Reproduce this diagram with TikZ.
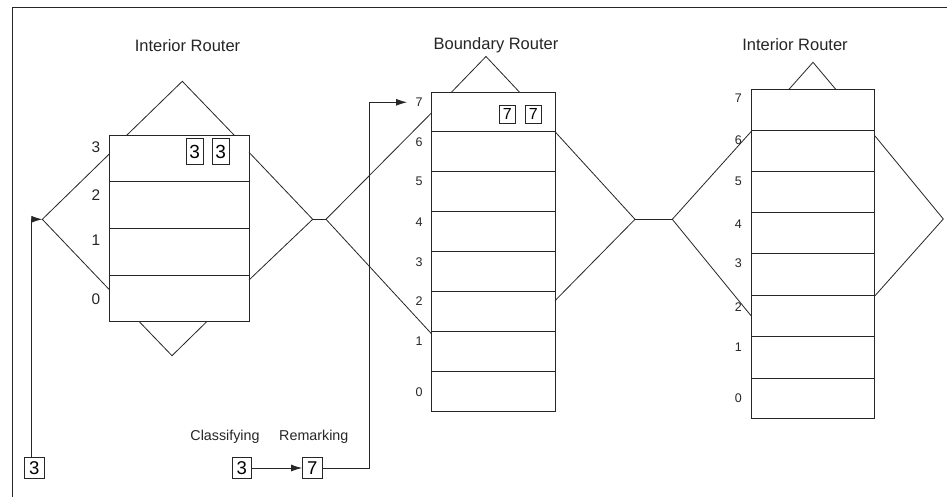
\documentclass[tikz,border=0pt]{standalone}
\usepackage{fontspec}
\setmainfont{Liberation Sans}
\usetikzlibrary{arrows.meta}
\begin{document}
\begin{tikzpicture}[x=1pt,y=-1pt,
  ln/.style={line width=0.8pt, draw=black!85},
  arr/.style={ln,-{Latex[length=11pt,width=7pt]}},
  title/.style={font=\fontsize{16.5}{18}\selectfont, anchor=base, inner sep=0, text=black!85},
  lblL/.style={font=\fontsize{15.4}{17}\selectfont, inner sep=0, text=black!85},
  lbl/.style={font=\fontsize{12.5}{14}\selectfont, inner sep=0, text=black!85},
  captxt/.style={font=\fontsize{14.3}{16}\selectfont, inner sep=0, text=black!85},
  dboxA/.style={ln, draw, inner sep=0, minimum width=17.3pt, minimum height=25.6pt, font=\fontsize{19}{20}\selectfont},
  dboxB/.style={ln, draw, inner sep=0, minimum width=15.7pt, minimum height=18.3pt, font=\fontsize{16}{17}\selectfont},
  dboxC/.style={ln, draw, inner sep=0, minimum width=19.5pt, minimum height=20.6pt, font=\fontsize{18.5}{19}\selectfont}]
\useasboundingbox (0,0) rectangle (947,497);
\fill[white] (0,0) rectangle (947,497);

% frame
\draw[ln] (12,497) -- (12,7.5) -- (947,7.5);

% titles
\node[title] (tL) at (187.5,51.5) {Interior Router};
\node[title] (tB) at (496,50) {Boundary Router};
\node[title] (tR) at (795,50.7) {Interior Router};

% ---------- left interior router ----------
\draw[ln] (109,135.3) rectangle (249,321.7);
\foreach \y in {181.7,228.3,275} \draw[ln] (109,\y) -- (249,\y);
\draw[ln] (126.7,135.3) -- (182.3,81.3) -- (234.3,135.3);
\draw[ln] (139.3,321.7) -- (172,355.7) -- (206.7,321.7);
\coordinate (Lw) at (42.3,219.3);
\coordinate (Le) at (312.7,219.3);
\draw[ln] (109,154.3) -- (Lw) -- (109,289.3);
\draw[ln] (249,152.3) -- (Le) -- (249,280);
\node[lblL] (L3) at (96,147.3) {3};
\node[lblL] (L2) at (96,195) {2};
\node[lblL] (L1) at (96,240) {1};
\node[lblL] (L0) at (96,299.3) {0};
\node[dboxA] (La) at (194.7,151.5) {3};
\node[dboxA] (Lb) at (220.7,151.5) {3};

% ---------- boundary router ----------
\draw[ln] (431.7,92.7) rectangle (555,411);
\foreach \y in {131.7,171.7,211.7,251.7,291.3,331.3,371.3} \draw[ln] (431.7,\y) -- (555,\y);
\draw[ln] (451,92.7) -- (486,56.5) -- (520,92.7);
\coordinate (Bw) at (326,219.3);
\coordinate (Be) at (635,219.3);
\draw[ln] (431.7,112.7) -- (Bw) -- (431.7,334);
\draw[ln] (555,131.7) -- (Be) -- (555,300.7);
\draw[ln] (Le) -- (Bw);
\foreach \t/\y in {7/102.3,6/141.7,5/181.7,4/221.7,3/261.7,2/300.7,1/340.7,0/391.7}
  \node[lbl] (B\t) at (419,\y) {\t};
\node[dboxB] (Ba) at (507.2,114.2) {7};
\node[dboxB] (Bb) at (533.2,114.2) {7};

% ---------- right interior router ----------
\draw[ln] (751,89.3) rectangle (874.3,418.3);
\foreach \y in {130,171.7,212.7,253.7,295.7,336.3,378} \draw[ln] (751,\y) -- (874.3,\y);
\draw[ln] (789,89.3) -- (813,62.3) -- (835.7,89.3);
\coordinate (Rw) at (672.3,219.3);
\coordinate (Re) at (943.3,219);
\draw[ln] (751,131.7) -- (Rw) -- (751,315.7);
\draw[ln] (875,136) -- (Re) -- (875,295.7);
\draw[ln] (Be) -- (Rw);
\foreach \t/\y in {7/98.3,6/140,5/181.7,4/224,3/263.3,2/306.7,1/346.7,0/398.3}
  \node[lbl] (R\t) at (738.3,\y) {\t};

% ---------- packets ----------
\node[dboxC] (src) at (34.2,468) {3};
\coordinate (up) at (31.7,219.3);
\draw[arr] (src.north -| up) -- (up) -- (Lw);

\node[captxt] (cls) at (225,437) {Classifying};
\node[captxt] (rem) at (313.8,437) {Remarking};
\node[dboxC] (c3) at (241.7,468) {3};
\node[dboxC] (c7) at (312.2,468) {7};
\draw[arr] (c3) -- (c7);
\coordinate (turn) at (369.3,102.3);
\coordinate (tip) at (407,102.3);
\draw[arr] (c7.east) -| (turn) -- (tip);
\end{tikzpicture}
\end{document}
